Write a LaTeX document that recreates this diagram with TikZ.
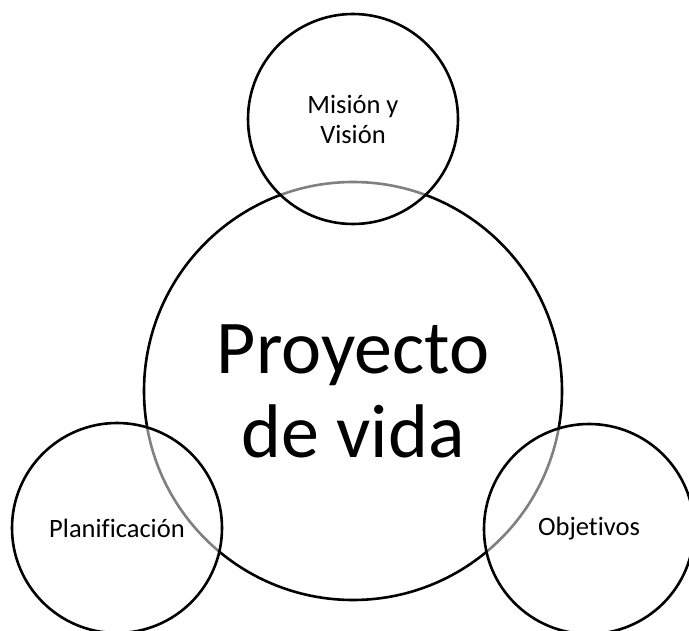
\documentclass[tikz,border=0pt]{standalone}
\usepackage{fontspec}
\setmainfont{Carlito}[RawFeature={-liga;-clig}]

\tikzset{
	bubble/.style={circle, draw=black, line width=2.6pt, inner sep=0pt, align=center},
	small bubble/.style={bubble, minimum size=210pt, fill=white, fill opacity=0.5, text opacity=1, font=\fontsize{26.5}{30}\selectfont},
}

\begin{document}
\begin{tikzpicture}[x=1pt,y=1pt,yscale=-1,xscale=1]
	\useasboundingbox (0,0) rectangle (689,631);
	\node [bubble, minimum size=418pt, font=\fontsize{76}{84}\selectfont] (proyecto) at (353,391) {Proyecto\\de vida};
	\node [small bubble] (mision) at (353,119) {Misión y\\Visión};
	\node [small bubble] (planificacion) at (117,528) {Planificación};
	\node [small bubble] (objetivos) at (589,529) {Objetivos};
\end{tikzpicture}
\end{document}
